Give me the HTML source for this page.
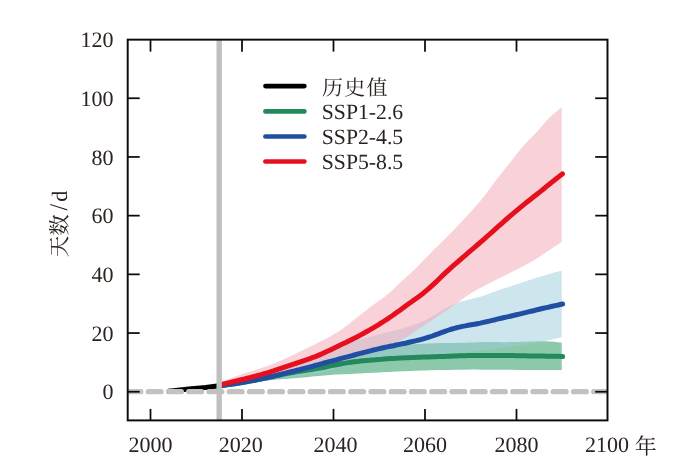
<!DOCTYPE html>
<html><head><meta charset="utf-8"><title>chart</title>
<style>html,body{margin:0;padding:0;background:#fff;}body{width:700px;height:470px;overflow:hidden;font-family:"Liberation Serif",serif;}svg{display:block;text-rendering:geometricPrecision;will-change:transform;}</style>
</head><body>
<svg width="700" height="470" viewBox="0 0 700 470">
<rect width="700" height="470" fill="#fff"/>
<polygon points="219.3,384.5 222.3,383.9 225.3,383.4 228.3,382.8 231.3,382.3 234.3,381.7 237.3,381.2 240.3,380.6 243.3,380.0 246.3,379.4 249.3,378.8 252.3,378.2 255.3,377.5 258.3,376.9 261.3,376.3 264.3,375.6 267.3,375.0 270.3,374.4 273.3,373.7 276.3,373.1 279.3,372.5 282.3,371.8 285.3,371.2 288.3,370.5 291.3,369.9 294.3,369.2 297.3,368.6 300.3,367.9 303.3,367.2 306.3,366.5 309.3,365.7 312.3,365.0 315.3,364.3 318.3,363.5 321.3,362.8 324.3,362.1 327.3,361.3 330.3,360.5 333.3,359.8 336.3,359.0 339.3,358.2 342.3,357.4 345.3,356.6 348.3,355.8 351.3,355.0 354.3,354.3 357.3,353.5 360.3,352.8 363.3,352.1 366.3,351.4 369.3,350.7 372.3,350.0 375.3,349.3 378.3,348.7 381.3,348.0 384.3,347.4 387.3,346.9 390.3,346.4 393.3,346.0 396.3,345.6 399.3,345.3 402.3,345.1 405.3,344.8 408.3,344.6 411.3,344.4 414.3,344.2 417.3,344.1 420.3,343.9 423.3,343.8 426.3,343.6 429.3,343.5 432.3,343.3 435.3,343.2 438.3,343.1 441.3,343.0 444.3,342.9 447.3,342.9 450.3,342.9 453.3,342.9 456.3,342.9 459.3,342.8 462.3,342.8 465.3,342.7 468.3,342.6 471.3,342.5 474.3,342.4 477.3,342.2 480.3,342.1 483.3,342.0 486.3,341.9 489.3,341.9 492.3,342.0 495.3,342.0 498.3,342.1 501.3,342.2 504.3,342.2 507.3,342.2 510.3,342.1 513.3,342.0 516.3,342.0 519.3,341.9 522.3,341.8 525.3,341.7 528.3,341.6 531.3,341.5 534.3,341.4 537.3,341.3 540.3,341.2 543.3,341.2 546.3,341.2 549.3,341.4 552.3,341.6 555.3,341.9 558.3,342.2 561.3,342.5 561.7,342.5 561.7,369.9 561.3,369.9 558.3,369.9 555.3,369.9 552.3,369.9 549.3,369.9 546.3,369.9 543.3,369.9 540.3,369.9 537.3,369.9 534.3,369.9 531.3,369.9 528.3,369.9 525.3,369.9 522.3,369.9 519.3,369.9 516.3,369.9 513.3,369.8 510.3,369.8 507.3,369.8 504.3,369.8 501.3,369.8 498.3,369.8 495.3,369.8 492.3,369.7 489.3,369.7 486.3,369.7 483.3,369.7 480.3,369.7 477.3,369.6 474.3,369.6 471.3,369.6 468.3,369.6 465.3,369.7 462.3,369.7 459.3,369.7 456.3,369.8 453.3,369.8 450.3,369.9 447.3,369.9 444.3,369.9 441.3,370.0 438.3,370.1 435.3,370.1 432.3,370.2 429.3,370.3 426.3,370.4 423.3,370.5 420.3,370.6 417.3,370.7 414.3,370.8 411.3,370.9 408.3,371.1 405.3,371.2 402.3,371.3 399.3,371.4 396.3,371.6 393.3,371.7 390.3,371.9 387.3,372.0 384.3,372.2 381.3,372.3 378.3,372.5 375.3,372.7 372.3,372.8 369.3,373.0 366.3,373.1 363.3,373.3 360.3,373.4 357.3,373.6 354.3,373.7 351.3,373.9 348.3,374.0 345.3,374.2 342.3,374.3 339.3,374.5 336.3,374.6 333.3,374.8 330.3,375.0 327.3,375.2 324.3,375.4 321.3,375.7 318.3,376.0 315.3,376.3 312.3,376.6 309.3,376.9 306.3,377.2 303.3,377.5 300.3,377.8 297.3,378.0 294.3,378.3 291.3,378.5 288.3,378.7 285.3,378.9 282.3,379.1 279.3,379.4 276.3,379.6 273.3,379.9 270.3,380.2 267.3,380.5 264.3,380.8 261.3,381.1 258.3,381.4 255.3,381.7 252.3,382.0 249.3,382.3 246.3,382.7 243.3,383.1 240.3,383.6 237.3,384.1 234.3,384.6 231.3,385.2 228.3,385.8 225.3,386.3 222.3,386.9 219.3,387.5" fill="#2e9d66" fill-opacity="0.55"/>
<polygon points="219.3,384.0 222.3,383.4 225.3,382.8 228.3,382.2 231.3,381.6 234.3,380.9 237.3,380.3 240.3,379.7 243.3,379.0 246.3,378.2 249.3,377.4 252.3,376.6 255.3,375.7 258.3,374.9 261.3,374.0 264.3,373.2 267.3,372.3 270.3,371.5 273.3,370.6 276.3,369.7 279.3,368.8 282.3,367.9 285.3,367.0 288.3,366.1 291.3,365.2 294.3,364.3 297.3,363.3 300.3,362.2 303.3,361.0 306.3,359.7 309.3,358.3 312.3,356.9 315.3,355.5 318.3,354.2 321.3,352.8 324.3,351.5 327.3,350.2 330.3,349.0 333.3,347.8 336.3,346.8 339.3,345.7 342.3,344.7 345.3,343.8 348.3,342.8 351.3,341.9 354.3,341.0 357.3,340.1 360.3,339.3 363.3,338.5 366.3,337.8 369.3,337.0 372.3,336.2 375.3,335.4 378.3,334.6 381.3,333.8 384.3,333.0 387.3,332.2 390.3,331.4 393.3,330.7 396.3,329.9 399.3,329.1 402.3,328.4 405.3,327.6 408.3,326.7 411.3,325.8 414.3,324.8 417.3,323.7 420.3,322.5 423.3,321.1 426.3,319.7 429.3,318.1 432.3,316.3 435.3,314.5 438.3,312.7 441.3,310.8 444.3,309.0 447.3,307.4 450.3,305.8 453.3,304.5 456.3,303.3 459.3,302.3 462.3,301.3 465.3,300.5 468.3,299.7 471.3,299.0 474.3,298.2 477.3,297.5 480.3,296.7 483.3,295.8 486.3,294.8 489.3,293.7 492.3,292.5 495.3,291.4 498.3,290.3 501.3,289.2 504.3,288.3 507.3,287.4 510.3,286.4 513.3,285.5 516.3,284.5 519.3,283.4 522.3,282.4 525.3,281.4 528.3,280.4 531.3,279.4 534.3,278.5 537.3,277.6 540.3,276.7 543.3,275.8 546.3,274.9 549.3,274.0 552.3,273.1 555.3,272.3 558.3,271.5 561.3,270.8 561.7,270.7 561.7,337.2 561.3,337.3 558.3,338.0 555.3,338.7 552.3,339.4 549.3,340.0 546.3,340.7 543.3,341.3 540.3,341.8 537.3,342.4 534.3,342.9 531.3,343.4 528.3,343.9 525.3,344.5 522.3,345.0 519.3,345.5 516.3,345.9 513.3,346.4 510.3,346.9 507.3,347.3 504.3,347.7 501.3,348.1 498.3,348.5 495.3,348.8 492.3,349.2 489.3,349.5 486.3,349.9 483.3,350.3 480.3,350.7 477.3,351.1 474.3,351.4 471.3,351.8 468.3,352.1 465.3,352.4 462.3,352.7 459.3,352.9 456.3,353.2 453.3,353.4 450.3,353.6 447.3,353.9 444.3,354.1 441.3,354.4 438.3,354.6 435.3,354.9 432.3,355.1 429.3,355.4 426.3,355.6 423.3,355.9 420.3,356.1 417.3,356.4 414.3,356.6 411.3,356.9 408.3,357.2 405.3,357.6 402.3,357.9 399.3,358.3 396.3,358.6 393.3,359.0 390.3,359.4 387.3,359.7 384.3,360.1 381.3,360.5 378.3,360.9 375.3,361.4 372.3,361.8 369.3,362.2 366.3,362.6 363.3,363.1 360.3,363.5 357.3,364.0 354.3,364.6 351.3,365.2 348.3,365.8 345.3,366.5 342.3,367.3 339.3,368.0 336.3,368.9 333.3,369.7 330.3,370.4 327.3,371.1 324.3,371.8 321.3,372.4 318.3,372.9 315.3,373.4 312.3,373.9 309.3,374.3 306.3,374.8 303.3,375.2 300.3,375.6 297.3,376.1 294.3,376.5 291.3,376.9 288.3,377.3 285.3,377.7 282.3,378.1 279.3,378.5 276.3,378.9 273.3,379.3 270.3,379.8 267.3,380.2 264.3,380.6 261.3,381.0 258.3,381.4 255.3,381.9 252.3,382.3 249.3,382.7 246.3,383.1 243.3,383.5 240.3,384.0 237.3,384.4 234.3,384.8 231.3,385.3 228.3,385.7 225.3,386.1 222.3,386.6 219.3,387.0" fill="#9ccbd9" fill-opacity="0.5"/>
<polygon points="219.3,382.3 222.3,381.2 225.3,380.2 228.3,379.1 231.3,378.0 234.3,376.9 237.3,375.8 240.3,374.8 243.3,373.8 246.3,372.8 249.3,371.9 252.3,371.0 255.3,370.1 258.3,369.1 261.3,368.1 264.3,367.1 267.3,366.0 270.3,364.9 273.3,363.7 276.3,362.5 279.3,361.2 282.3,359.9 285.3,358.6 288.3,357.2 291.3,355.8 294.3,354.4 297.3,352.9 300.3,351.5 303.3,350.0 306.3,348.6 309.3,347.1 312.3,345.7 315.3,344.2 318.3,342.6 321.3,341.1 324.3,339.5 327.3,337.9 330.3,336.3 333.3,334.5 336.3,332.7 339.3,330.9 342.3,328.9 345.3,326.7 348.3,324.4 351.3,322.0 354.3,319.6 357.3,317.2 360.3,314.9 363.3,312.5 366.3,310.2 369.3,307.8 372.3,305.6 375.3,303.4 378.3,301.3 381.3,299.2 384.3,297.0 387.3,294.6 390.3,292.1 393.3,289.3 396.3,286.4 399.3,283.5 402.3,280.6 405.3,277.9 408.3,275.3 411.3,272.6 414.3,269.8 417.3,266.8 420.3,263.7 423.3,260.6 426.3,257.4 429.3,254.4 432.3,251.3 435.3,248.3 438.3,245.4 441.3,242.4 444.3,239.5 447.3,236.5 450.3,233.5 453.3,230.5 456.3,227.3 459.3,224.2 462.3,221.0 465.3,217.8 468.3,214.5 471.3,211.2 474.3,207.8 477.3,204.4 480.3,200.9 483.3,197.2 486.3,193.4 489.3,189.4 492.3,185.3 495.3,181.2 498.3,177.2 501.3,173.4 504.3,169.7 507.3,166.1 510.3,162.3 513.3,158.4 516.3,154.5 519.3,150.7 522.3,147.1 525.3,143.8 528.3,140.6 531.3,137.6 534.3,134.6 537.3,131.4 540.3,128.0 543.3,124.4 546.3,120.9 549.3,117.8 552.3,115.0 555.3,112.4 558.3,109.9 561.3,107.3 561.7,106.9 561.7,242.1 561.3,242.3 558.3,244.2 555.3,246.1 552.3,248.1 549.3,250.2 546.3,252.3 543.3,254.3 540.3,256.3 537.3,258.2 534.3,260.0 531.3,261.8 528.3,263.5 525.3,265.1 522.3,266.7 519.3,268.2 516.3,269.7 513.3,271.2 510.3,272.7 507.3,274.2 504.3,275.7 501.3,277.2 498.3,278.7 495.3,280.2 492.3,281.7 489.3,283.2 486.3,284.7 483.3,286.3 480.3,287.9 477.3,289.5 474.3,291.2 471.3,293.0 468.3,295.0 465.3,297.1 462.3,299.2 459.3,301.4 456.3,303.5 453.3,305.6 450.3,307.7 447.3,309.7 444.3,311.8 441.3,313.9 438.3,315.9 435.3,318.0 432.3,320.0 429.3,322.1 426.3,324.1 423.3,326.1 420.3,328.1 417.3,330.0 414.3,332.0 411.3,334.0 408.3,335.9 405.3,337.7 402.3,339.5 399.3,341.1 396.3,342.6 393.3,344.1 390.3,345.5 387.3,346.9 384.3,348.1 381.3,349.4 378.3,350.6 375.3,351.7 372.3,352.8 369.3,353.8 366.3,354.7 363.3,355.5 360.3,356.4 357.3,357.2 354.3,358.0 351.3,358.8 348.3,359.6 345.3,360.4 342.3,361.1 339.3,361.9 336.3,362.7 333.3,363.5 330.3,364.3 327.3,365.1 324.3,365.9 321.3,366.7 318.3,367.6 315.3,368.4 312.3,369.1 309.3,369.9 306.3,370.6 303.3,371.2 300.3,371.9 297.3,372.6 294.3,373.3 291.3,373.9 288.3,374.6 285.3,375.2 282.3,375.9 279.3,376.6 276.3,377.3 273.3,377.9 270.3,378.6 267.3,379.3 264.3,380.0 261.3,380.6 258.3,381.3 255.3,381.9 252.3,382.5 249.3,383.1 246.3,383.7 243.3,384.2 240.3,384.6 237.3,385.1 234.3,385.5 231.3,385.9 228.3,386.3 225.3,386.7 222.3,387.1 219.3,387.5" fill="#f3a6b4" fill-opacity="0.5"/>
<polyline points="169.5,391.1 171.4,390.9 188.6,389.1 205.7,387.4 219.0,385.7" fill="none" stroke="#000" stroke-width="5.0" stroke-linecap="round" stroke-linejoin="round"/>
<polyline points="219.3,386.0 222.3,385.5 225.3,385.1 228.3,384.6 231.3,384.2 234.3,383.7 237.3,383.3 240.3,382.8 243.3,382.3 246.3,381.8 249.3,381.3 252.3,380.7 255.3,380.2 258.3,379.6 261.3,379.0 264.3,378.4 267.3,377.8 270.3,377.1 273.3,376.5 276.3,375.8 279.3,375.2 282.3,374.5 285.3,373.9 288.3,373.3 291.3,372.7 294.3,372.2 297.3,371.6 300.3,371.2 303.3,370.7 306.3,370.3 309.3,369.8 312.3,369.4 315.3,368.9 318.3,368.4 321.3,367.8 324.3,367.2 327.3,366.6 330.3,365.9 333.3,365.3 336.3,364.7 339.3,364.2 342.3,363.6 345.3,363.1 348.3,362.6 351.3,362.2 354.3,361.8 357.3,361.4 360.3,361.1 363.3,360.8 366.3,360.5 369.3,360.2 372.3,359.9 375.3,359.7 378.3,359.4 381.3,359.2 384.3,358.9 387.3,358.7 390.3,358.5 393.3,358.4 396.3,358.2 399.3,358.1 402.3,357.9 405.3,357.8 408.3,357.7 411.3,357.5 414.3,357.4 417.3,357.3 420.3,357.2 423.3,357.1 426.3,357.0 429.3,356.9 432.3,356.8 435.3,356.7 438.3,356.6 441.3,356.5 444.3,356.4 447.3,356.3 450.3,356.2 453.3,356.0 456.3,355.9 459.3,355.8 462.3,355.7 465.3,355.7 468.3,355.6 471.3,355.5 474.3,355.5 477.3,355.5 480.3,355.5 483.3,355.4 486.3,355.4 489.3,355.4 492.3,355.4 495.3,355.4 498.3,355.4 501.3,355.4 504.3,355.5 507.3,355.5 510.3,355.6 513.3,355.6 516.3,355.7 519.3,355.7 522.3,355.8 525.3,355.8 528.3,355.9 531.3,355.9 534.3,356.0 537.3,356.0 540.3,356.1 543.3,356.1 546.3,356.2 549.3,356.2 552.3,356.2 555.3,356.3 558.3,356.3 561.3,356.4 562.6,356.4" fill="none" stroke="#23895a" stroke-width="5.0" stroke-linecap="round" stroke-linejoin="round"/>
<polyline points="219.3,386.0 222.3,385.5 225.3,385.1 228.3,384.6 231.3,384.1 234.3,383.7 237.3,383.2 240.3,382.7 243.3,382.2 246.3,381.7 249.3,381.1 252.3,380.6 255.3,380.0 258.3,379.4 261.3,378.8 264.3,378.1 267.3,377.5 270.3,376.8 273.3,376.1 276.3,375.4 279.3,374.6 282.3,373.9 285.3,373.2 288.3,372.4 291.3,371.7 294.3,371.0 297.3,370.2 300.3,369.5 303.3,368.7 306.3,367.9 309.3,367.1 312.3,366.3 315.3,365.5 318.3,364.7 321.3,363.8 324.3,363.0 327.3,362.2 330.3,361.4 333.3,360.6 336.3,359.8 339.3,359.0 342.3,358.2 345.3,357.4 348.3,356.6 351.3,355.8 354.3,355.0 357.3,354.2 360.3,353.4 363.3,352.6 366.3,351.9 369.3,351.1 372.3,350.3 375.3,349.6 378.3,348.9 381.3,348.2 384.3,347.5 387.3,346.9 390.3,346.3 393.3,345.7 396.3,345.0 399.3,344.4 402.3,343.8 405.3,343.2 408.3,342.5 411.3,341.8 414.3,341.1 417.3,340.4 420.3,339.7 423.3,338.8 426.3,337.9 429.3,337.0 432.3,336.0 435.3,334.9 438.3,333.8 441.3,332.7 444.3,331.6 447.3,330.5 450.3,329.5 453.3,328.6 456.3,327.8 459.3,327.1 462.3,326.4 465.3,325.9 468.3,325.3 471.3,324.8 474.3,324.3 477.3,323.7 480.3,323.1 483.3,322.4 486.3,321.8 489.3,321.1 492.3,320.4 495.3,319.7 498.3,318.9 501.3,318.2 504.3,317.5 507.3,316.9 510.3,316.2 513.3,315.5 516.3,314.8 519.3,314.1 522.3,313.4 525.3,312.6 528.3,311.9 531.3,311.2 534.3,310.5 537.3,309.7 540.3,309.0 543.3,308.3 546.3,307.6 549.3,307.0 552.3,306.3 555.3,305.6 558.3,305.0 561.3,304.3 562.6,304.0" fill="none" stroke="#1f4ea3" stroke-width="5.0" stroke-linecap="round" stroke-linejoin="round"/>
<polyline points="219.3,385.0 222.3,384.3 225.3,383.6 228.3,382.9 231.3,382.2 234.3,381.4 237.3,380.7 240.3,380.0 243.3,379.3 246.3,378.5 249.3,377.8 252.3,377.0 255.3,376.2 258.3,375.4 261.3,374.6 264.3,373.7 267.3,372.8 270.3,371.8 273.3,370.9 276.3,369.9 279.3,368.9 282.3,367.9 285.3,366.9 288.3,365.9 291.3,364.9 294.3,363.9 297.3,362.9 300.3,361.9 303.3,360.8 306.3,359.8 309.3,358.8 312.3,357.7 315.3,356.6 318.3,355.4 321.3,354.1 324.3,352.7 327.3,351.3 330.3,349.9 333.3,348.4 336.3,347.0 339.3,345.5 342.3,344.1 345.3,342.7 348.3,341.2 351.3,339.7 354.3,338.2 357.3,336.7 360.3,335.1 363.3,333.5 366.3,331.8 369.3,330.1 372.3,328.4 375.3,326.6 378.3,324.8 381.3,322.9 384.3,321.0 387.3,319.1 390.3,317.0 393.3,315.0 396.3,312.8 399.3,310.7 402.3,308.5 405.3,306.3 408.3,304.1 411.3,302.0 414.3,299.8 417.3,297.7 420.3,295.5 423.3,293.2 426.3,290.7 429.3,288.2 432.3,285.4 435.3,282.6 438.3,279.7 441.3,276.8 444.3,273.9 447.3,271.1 450.3,268.4 453.3,265.7 456.3,263.1 459.3,260.5 462.3,257.9 465.3,255.3 468.3,252.7 471.3,250.1 474.3,247.6 477.3,245.0 480.3,242.4 483.3,239.8 486.3,237.2 489.3,234.5 492.3,231.8 495.3,229.1 498.3,226.4 501.3,223.8 504.3,221.1 507.3,218.5 510.3,215.9 513.3,213.4 516.3,210.8 519.3,208.3 522.3,205.8 525.3,203.4 528.3,201.0 531.3,198.7 534.3,196.3 537.3,194.0 540.3,191.6 543.3,189.2 546.3,186.7 549.3,184.3 552.3,181.9 555.3,179.5 558.3,177.1 561.3,174.8 562.4,173.9" fill="none" stroke="#e60f1e" stroke-width="5.0" stroke-linecap="round" stroke-linejoin="round"/>
<clipPath id="pc"><rect x="127.7" y="39.65" width="479.8" height="380.75"/></clipPath>
<line clip-path="url(#pc)" x1="127.95" y1="391.65" x2="611.5" y2="391.65" stroke="#c2c2c2" stroke-width="5.2" stroke-linecap="round" stroke-dasharray="12.9 7.35"/>
<line x1="219.2" y1="39.65" x2="219.2" y2="420.4" stroke="#c0c0c0" stroke-width="5.4"/>
<rect x="127.7" y="39.65" width="479.8" height="380.75" stroke="#0a0a0a" stroke-width="1.95" fill="none"/>
<g stroke="#0a0a0a" stroke-width="1.75" fill="none" stroke-linecap="butt">
<line x1="150.50" y1="39.65" x2="150.50" y2="51.65"/>
<line x1="150.50" y1="420.4" x2="150.50" y2="408.9"/>
<line x1="242.00" y1="39.65" x2="242.00" y2="51.65"/>
<line x1="242.00" y1="420.4" x2="242.00" y2="408.9"/>
<line x1="333.50" y1="39.65" x2="333.50" y2="51.65"/>
<line x1="333.50" y1="420.4" x2="333.50" y2="408.9"/>
<line x1="425.00" y1="39.65" x2="425.00" y2="51.65"/>
<line x1="425.00" y1="420.4" x2="425.00" y2="408.9"/>
<line x1="516.50" y1="39.65" x2="516.50" y2="51.65"/>
<line x1="516.50" y1="420.4" x2="516.50" y2="408.9"/>
<line x1="127.7" y1="391.75" x2="139.7" y2="391.75"/>
<line x1="607.5" y1="391.75" x2="595.2" y2="391.75"/>
<line x1="127.7" y1="333.05" x2="139.7" y2="333.05"/>
<line x1="607.5" y1="333.05" x2="595.2" y2="333.05"/>
<line x1="127.7" y1="274.35" x2="139.7" y2="274.35"/>
<line x1="607.5" y1="274.35" x2="595.2" y2="274.35"/>
<line x1="127.7" y1="215.65" x2="139.7" y2="215.65"/>
<line x1="607.5" y1="215.65" x2="595.2" y2="215.65"/>
<line x1="127.7" y1="156.95" x2="139.7" y2="156.95"/>
<line x1="607.5" y1="156.95" x2="595.2" y2="156.95"/>
<line x1="127.7" y1="98.25" x2="139.7" y2="98.25"/>
<line x1="607.5" y1="98.25" x2="595.2" y2="98.25"/>
</g>
<g fill="#2b2320" font-family="'Liberation Serif', 'Noto Serif CJK SC', serif" font-size="22">
<text x="113.6" y="399.45" text-anchor="end">0</text>
<text x="113.6" y="340.75" text-anchor="end">20</text>
<text x="113.6" y="282.05" text-anchor="end">40</text>
<text x="113.6" y="223.35" text-anchor="end">60</text>
<text x="113.6" y="164.65" text-anchor="end">80</text>
<text x="113.6" y="105.95" text-anchor="end">100</text>
<text x="113.6" y="47.25" text-anchor="end">120</text>
<text x="150.60" y="452.4" text-anchor="middle">2000</text>
<text x="240.70" y="452.4" text-anchor="middle">2020</text>
<text x="335.50" y="452.4" text-anchor="middle">2040</text>
<text x="425.10" y="452.4" text-anchor="middle">2060</text>
<text x="516.60" y="452.4" text-anchor="middle">2080</text>
<text x="606.9" y="452.4" text-anchor="middle">2100</text>
<text x="634.7" y="453.5" font-size="22">年</text>
<text x="321.8" y="118.90" font-size="21.7">SSP1-2.6</text>
<text x="321.8" y="144.00" font-size="21.7">SSP2-4.5</text>
<text x="321.8" y="169.00" font-size="21.7">SSP5-8.5</text>
<text x="322" y="94.8" font-size="21" textLength="65.5" lengthAdjust="spacing">历史值</text>
<text transform="translate(66.7,257.3) rotate(-90)" font-size="21.5">天数</text>
<text transform="translate(66.6,210.4) rotate(-90) scale(1.08,1.16)">/</text>
<text transform="translate(66.5,201.8) rotate(-90)">d</text>
</g>
<line x1="265.4" y1="86.1" x2="304.4" y2="86.1" stroke="#000" stroke-width="4.6" stroke-linecap="round"/>
<line x1="265.4" y1="111.4" x2="304.4" y2="111.4" stroke="#23895a" stroke-width="4.6" stroke-linecap="round"/>
<line x1="265.4" y1="136.5" x2="304.4" y2="136.5" stroke="#1f4ea3" stroke-width="4.6" stroke-linecap="round"/>
<line x1="265.4" y1="161.5" x2="304.4" y2="161.5" stroke="#e60f1e" stroke-width="4.6" stroke-linecap="round"/>
</svg>
</body></html>
